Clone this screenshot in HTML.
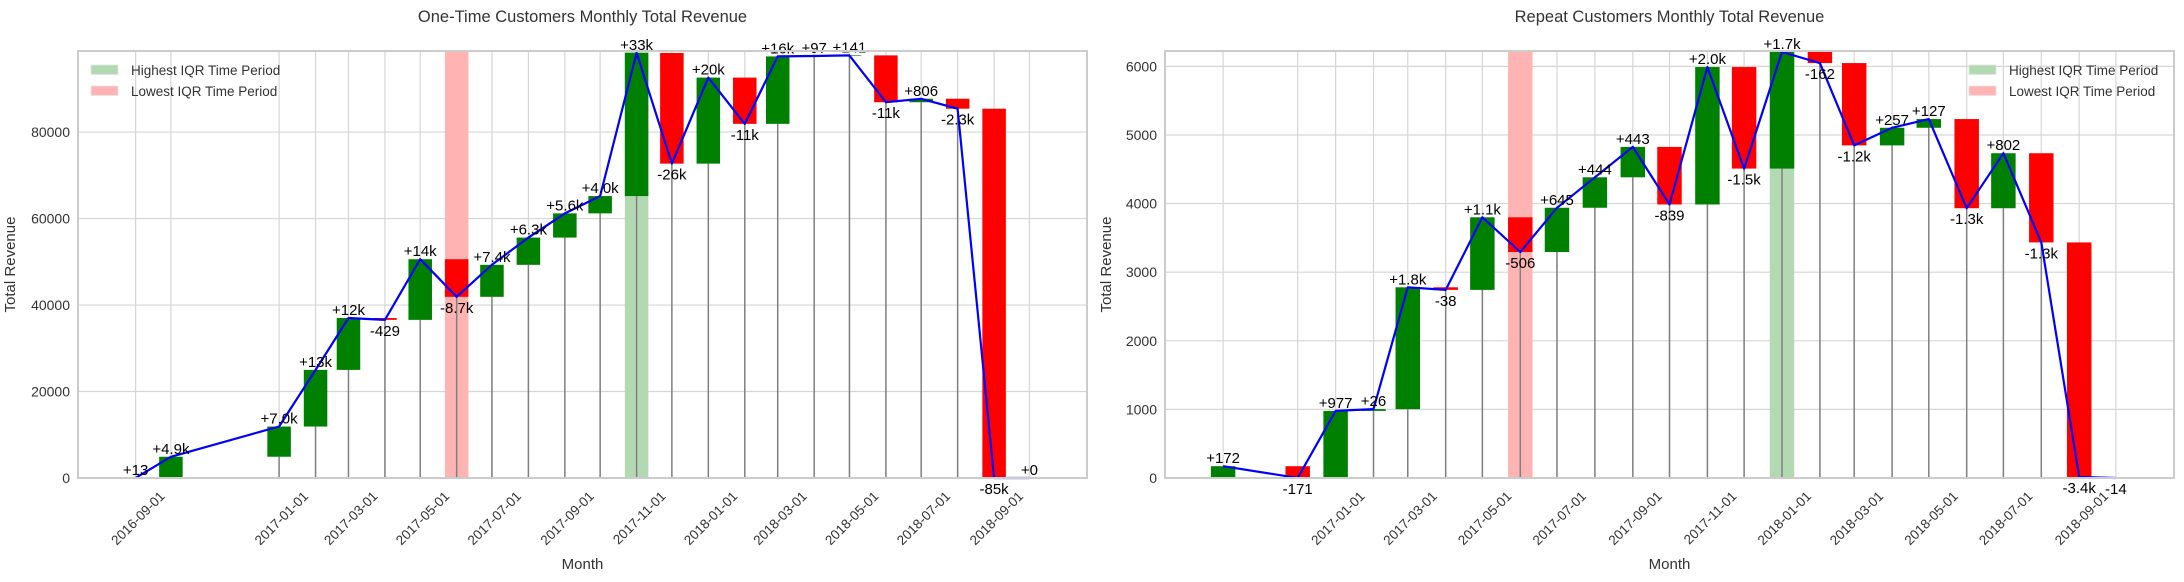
<!DOCTYPE html>
<html><head><meta charset="utf-8">
<style>
html,body{margin:0;padding:0;background:#fff;}
svg{display:block;font-family:"Liberation Sans",Arial,sans-serif;}
</style></head>
<body>
<svg id="chart" width="2184" height="582" viewBox="0 0 2184 582" xmlns="http://www.w3.org/2000/svg"></svg>
<script>
// ---- data ----
const oneTimeMonths = ["2016-09","2016-10","2017-01","2017-02","2017-03","2017-04","2017-05","2017-06","2017-07","2017-08","2017-09","2017-10","2017-11","2017-12","2018-01","2018-02","2018-03","2018-04","2018-05","2018-06","2018-07","2018-08","2018-09","2018-10"];
const oneTimeTotals = [13,4913,11900,25000,37000,36571,50600,41900,49300,55600,61200,65200,98300,72700,92600,81900,97500,97597,97738,86900,87706,85406,0,0];
const oneTimeTicks = ["2016-09","2017-01","2017-03","2017-05","2017-07","2017-09","2017-11","2018-01","2018-03","2018-05","2018-07","2018-09"];
const oneTimeYTicks = [0,20000,40000,60000,80000];
const oneTimeHigh = "2017-11";
const oneTimeLow = "2017-06";

const repeatMonths = ["2016-10","2016-12","2017-01","2017-02","2017-03","2017-04","2017-05","2017-06","2017-07","2017-08","2017-09","2017-10","2017-11","2017-12","2018-01","2018-02","2018-03","2018-04","2018-05","2018-06","2018-07","2018-08","2018-09","2018-10"];
const repeatTotals = [172,1,978,1004,2780,2742,3800,3294,3939,4383,4826,3987,5990,4510,6210,6048,4848,5105,5232,3932,4734,3434,14,0];
const repeatTicks = ["2017-01","2017-03","2017-05","2017-07","2017-09","2017-11","2018-01","2018-03","2018-05","2018-07","2018-09"];
const repeatYTicks = [0,1000,2000,3000,4000,5000,6000];
const repeatHigh = "2018-01";
const repeatLow = "2017-06";

const NS = "http://www.w3.org/2000/svg";
const svg = document.getElementById("chart");
function el(tag, attrs, parent){
  const e = document.createElementNS(NS, tag);
  for (const k in attrs) e.setAttribute(k, attrs[k]);
  (parent||svg).appendChild(e);
  return e;
}
function day(m){ return Date.UTC(+m.slice(0,4), +m.slice(5,7)-1, 1)/86400000; }
function fmt(d){
  const s = d >= 0 ? "+" : "-";
  const a = Math.abs(d);
  if (a >= 10000) return s + Math.round(a/1000) + "k";
  if (a >= 1000) return s + (a/1000).toFixed(1) + "k";
  return s + Math.round(a);
}

function drawChart(cfg){
  const g = el("g", {});
  
  
  const L = cfg.left, R = cfg.right, T = 51, B = 478;
  const BW = 20; // bar width in days
  const d0 = day(cfg.months[0]) - BW/2, d1 = day(cfg.months[cfg.months.length-1]) + BW/2;
  const span = d1 - d0;
  const dmin = d0 - span*0.05, dmax = d1 + span*0.05;
  const xs = d => L + (d - dmin)/(dmax - dmin)*(R - L);
  const ys = v => B - v/cfg.ymax*(B - T);
  const pxDay = (R-L)/(dmax-dmin);

  cfg.yticks.forEach(v => {
    const gl = el("line", {x1:L, x2:R, y1:ys(v), y2:ys(v), stroke:"#d6d6d6", "stroke-width":1.2}, g);
    
    
    const t = el("text", {x:L-8, y:ys(v)+5, "text-anchor":"end", "font-size":14, fill:"#333"}, g);
    t.textContent = v;
    
    
  });
  cfg.months.forEach(m => {
    const x = xs(day(m));
    const gl = el("line", {x1:x, x2:x, y1:T, y2:B, stroke:"#d6d6d6", "stroke-width":1.2}, g);
    
    
  });
  [[cfg.high,"#b3d9b3","highest-iqr-band"],[cfg.low,"#ffb3b3","lowest-iqr-band"]].forEach(b => {
    const x = xs(day(b[0]));
    const r = el("rect", {x:x-BW*pxDay/2, y:T, width:BW*pxDay, height:B-T, fill:b[1]}, g);
    
    
  });
  cfg.months.forEach((m,i) => {
    const prev = i === 0 ? 0 : cfg.totals[i-1];
    const cur = cfg.totals[i];
    const x = xs(day(m));
    const lo = Math.min(prev,cur), hi = Math.max(prev,cur);
    if (lo > 0) {
      const s = el("line", {x1:x, x2:x, y1:B, y2:ys(lo), stroke:"#808080", "stroke-width":1.5}, g);
      
      
    }
    const bar = el("rect", {x:x-BW*pxDay/2, y:ys(hi), width:BW*pxDay, height:Math.max(ys(lo)-ys(hi),0.01), fill: cur>=prev ? "#008000" : "#ff0000"}, g);
    
    
  });
  const pts = cfg.months.map((m,i) => xs(day(m)).toFixed(1) + "," + ys(cfg.totals[i]).toFixed(1)).join(" ");
  const pl = el("polyline", {points:pts, fill:"none", stroke:"#0000ff", "stroke-width":2.2, "stroke-linejoin":"round"}, g);
  
  
  cfg.months.forEach((m,i) => {
    const prev = i === 0 ? 0 : cfg.totals[i-1];
    const d = cfg.totals[i] - prev;
    const x = xs(day(m)), y = ys(cfg.totals[i]);
    const t = el("text", {x:x, y: d >= 0 ? y-3 : y+16, "text-anchor":"middle", "font-size":15, fill:"#000"}, g);
    t.textContent = fmt(d);
    
    
  });
  const fr = el("rect", {x:L, y:T, width:R-L, height:B-T, fill:"none", stroke:"#cccccc", "stroke-width":2}, g);
  
  
  cfg.ticks.forEach(m => {
    const x = xs(day(m));
    const t = el("text", {"text-anchor":"end", "font-size":13.5, fill:"#333", transform:"translate(" + (x+30) + ",497) rotate(-45)"}, g);
    t.textContent = m + "-01";
    
    
  });
  const ti = el("text", {x:(L+R)/2, y:22, "text-anchor":"middle", "font-size":16.5, fill:"#333"}, g);
  ti.textContent = cfg.title;
  
  
  const xl = el("text", {x:(L+R)/2, y:569, "text-anchor":"middle", "font-size":15, fill:"#333"}, g);
  xl.textContent = "Month";
  
  
  const yl = el("text", {"text-anchor":"middle", "font-size":15, fill:"#333", transform:"translate(" + (cfg.ylabX) + "," + ((T+B)/2) + ") rotate(-90)"}, g);
  yl.textContent = "Total Revenue";
  
  
  const lg = el("g", {}, g);
  
  
  [["#b3d9b3","Highest IQR Time Period",65],["#ffb3b3","Lowest IQR Time Period",86]].forEach(e => {
    const r = el("rect", {x:cfg.legX, y:e[2], width:27, height:9.5, fill:e[0], stroke:"#e4e4e4", "stroke-width":0.8}, lg);
    
    
    const t = el("text", {x:cfg.legX+40, y:e[2]+10, "font-size":13.5, fill:"#333"}, lg);
    t.textContent = e[1];
    
    
  });
}

drawChart({name:"one-time-chart", left:78, right:1087, months:oneTimeMonths, totals:oneTimeTotals, ticks:oneTimeTicks, yticks:oneTimeYTicks, ymax:98750, high:oneTimeHigh, low:oneTimeLow, title:"One-Time Customers Monthly Total Revenue", ylabX:15, legX:91});
drawChart({name:"repeat-chart", left:1165, right:2174, months:repeatMonths, totals:repeatTotals, ticks:repeatTicks, yticks:repeatYTicks, ymax:6224, high:repeatHigh, low:repeatLow, title:"Repeat Customers Monthly Total Revenue", ylabX:1111, legX:1969});
</script>
</body></html>
